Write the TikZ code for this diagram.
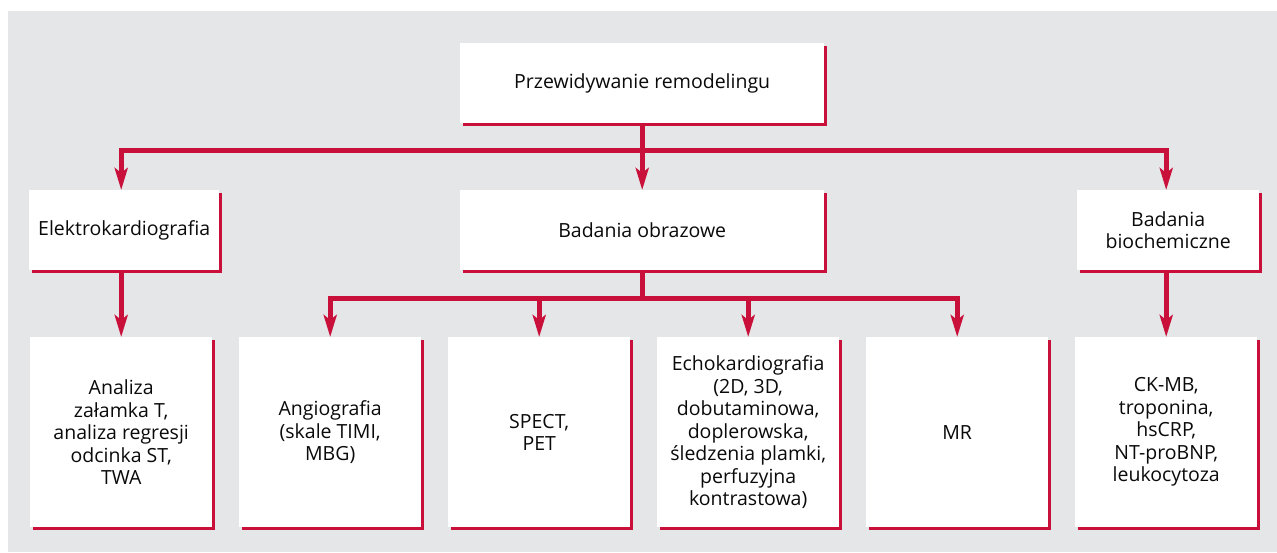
\documentclass[tikz,border=0pt]{standalone}
\usepackage{fontspec}
\setmainfont{Open Sans}
\usetikzlibrary{arrows.meta,shadows}
\definecolor{crim}{RGB}{200,16,58}
\definecolor{bggray}{RGB}{229,230,232}
\definecolor{txt}{RGB}{10,10,10}
\begin{document}
\begin{tikzpicture}[x=1pt,y=-1pt,
  font=\fontsize{19.5}{22.5}\selectfont,
  box/.style={fill=white, inner sep=0pt, align=center, text=txt, anchor=north west,
    general shadow={fill=crim, shadow xshift=3pt, shadow yshift=-3pt}},
  topbox/.style={box, minimum width=364pt, minimum height=80pt},
  midbox/.style={box, minimum height=80pt},
  lowbox/.style={box, minimum width=182pt, minimum height=190pt},
  conn/.style={draw=crim, line width=4.8pt},
  arr/.style={conn, -{Stealth[length=22pt,width=13pt,inset=5pt]}}]
\useasboundingbox (0,0) rectangle (1277,552);
\fill[white] (0,0) rectangle (1277,552);
\fill[bggray] (8,11) rectangle (1277,552);

% boxes
\node[topbox] (top) at (460,43) {Przewidywanie remodelingu};
\node[midbox, minimum width=190pt] (ekg) at (29,190) {Elektrokardiografia};
\node[topbox] (obraz) at (460,190) {Badania obrazowe};
\node[midbox, minimum width=182pt] (bio) at (1077,190) {Badania\\biochemiczne};

\node[lowbox] (analiza) at (30,337) {Analiza\\załamka T,\\analiza regresji\\odcinka ST,\\TWA};
\node[lowbox] (angio) at (239,337) {Angiografia\\(skale TIMI,\\MBG)};
\node[lowbox] (spect) at (448,337) {SPECT,\\PET};
\node[lowbox] (echo) at (657,337) {Echokardiografia\\(2D, 3D,\\dobutaminowa,\\doplerowska,\\śledzenia plamki,\\perfuzyjna\\kontrastowa)};
\node[lowbox] (mr) at (866,337) {MR};
\node[lowbox] (ck) at (1075,337) {CK-MB,\\troponina,\\hsCRP,\\NT-proBNP,\\leukocytoza};

% connectors, first level
\draw[arr] (top.south) -- ++(0,27) -| (ekg.north -| analiza.north);
\draw[arr] (top.south) -- ++(0,27) -| (bio.north -| ck.north);
\draw[arr] (top.south) -- (obraz.north);

% second level
\draw[arr] (ekg.south -| analiza.north) -- (analiza.north);
\draw[arr] (bio.south -| ck.north) -- (ck.north);
\draw[arr] (obraz.south) -- ++(0,28) -| (angio.north);
\draw[arr] (obraz.south) -- ++(0,28) -| (spect.north);
\draw[arr] (obraz.south) -- ++(0,28) -| (echo.north);
\draw[arr] (obraz.south) -- ++(0,28) -| (mr.north);
\end{tikzpicture}
\end{document}
